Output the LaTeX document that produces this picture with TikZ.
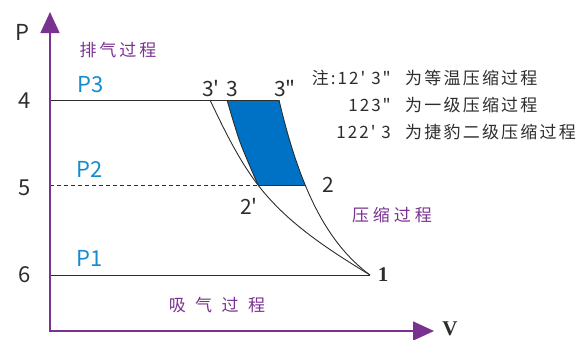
\documentclass[tikz,border=0pt]{standalone}
\usepackage{fontspec}
\newfontfamily\nsc{Noto Sans CJK SC}
\newfontfamily\tnr{Liberation Serif}
\usetikzlibrary{arrows.meta}
\definecolor{axpurple}{RGB}{122,50,145}
\definecolor{lblblue}{RGB}{22,140,206}
\definecolor{regblue}{RGB}{0,114,198}
\definecolor{ink}{RGB}{45,45,45}
\tikzset{
  axisline/.style={draw=axpurple, line width=1.6pt, line join=miter,
    {Triangle[length=21pt,width=19pt]}-{Triangle[length=21pt,width=19pt]}},
  thinline/.style={draw=ink, line width=0.9pt},
  dashline/.style={draw=ink, line width=0.9pt, dash pattern=on 4pt off 3pt},
  axlbl/.style={text=ink, font=\nsc\fontsize{22}{24}\selectfont, inner sep=0pt},
  plbl/.style={text=lblblue, font=\nsc\fontsize{22}{24}\selectfont, inner sep=0pt},
  ptlbl/.style={text=ink, font=\nsc\fontsize{21}{24}\selectfont, inner sep=0pt},
  serlbl/.style={text=ink, font=\tnr\bfseries\fontsize{21}{24}\selectfont, inner sep=0pt},
  proc/.style={text=axpurple, font=\nsc\fontsize{17}{20}\selectfont, inner sep=0pt},
  note/.style={text=ink, font=\nsc\fontsize{17}{20}\selectfont\addfontfeature{LetterSpace=12}, inner sep=0pt},
  notecjk/.style={text=ink, font=\nsc\fontsize{17}{20}\selectfont\addfontfeature{LetterSpace=13}, inner sep=0pt},
}
\begin{document}
\begin{tikzpicture}[x=1pt,y=-1pt]
\useasboundingbox (0,0) rectangle (581,340);
% key points
\coordinate (orig) at (50,331);
\coordinate (ytip) at (50,12);
\coordinate (xtip) at (434,331);
\coordinate (y4) at (50,100);
\coordinate (y5) at (50,185);
\coordinate (y6) at (50,275);
\coordinate (p1) at (370,275);
\coordinate (p2) at (305.2,185);
\coordinate (p2p) at (258,185);
\coordinate (p3) at (227,100);
\coordinate (p3p) at (210,100);
\coordinate (p3dd) at (279,100);
% blue region
\fill[regblue] (p3) -- (p3dd)
  -- plot[domain=100:185, samples=30, variable=\t] ({50+229*exp(0.2361*ln(231/(331-\t)))},\t)
  -- (p2p) -- plot[smooth] coordinates {(p2p) (240,142) (p3)} -- cycle;
% pressure lines
\draw[thinline] (y4) -- (p3dd);
\draw[dashline] (y5) -- (p2p);
\draw[thinline] (p2p) -- (p2);
\draw[thinline] (y6) -- (p1);
% curves
\draw[thinline] plot[domain=100:275, samples=60, variable=\t] ({50+229*exp(0.2361*ln(231/(331-\t)))},\t);
\draw[thinline] (p1) .. controls (329,250) and (287,223) .. (p2p)
  .. controls (238.5,159.6) and (223.8,128.9) .. (p3p);
\draw[thinline] plot[smooth] coordinates {(p2p) (240,142) (p3)};
% axes
\draw[axisline] (ytip) -- (orig) -- (xtip);
% labels
\node[axlbl] (lP) at (22,32) {P};
\node[axlbl] (l4) at (25,101) {4};
\node[axlbl] (l5) at (25,188) {5};
\node[axlbl] (l6) at (25,275) {6};
\node[serlbl] (lV) at (450,329) {V};
\node[plbl] (lP3) at (91,85) {P3};
\node[plbl] (lP2) at (90,169) {P2};
\node[plbl] (lP1) at (90,258) {P1};
\node[proc] (exh) at (118,50) {排\hspace{3pt}气\hspace{3pt}过\hspace{3pt}程};
\node[proc] (suc) at (217,305) {吸\hspace{9.5pt}气\hspace{9.5pt}过\hspace{9.5pt}程};
\node[proc] (cmp) at (392,215) {压\hspace{4pt}缩\hspace{4pt}过\hspace{4pt}程};
\node[serlbl] (l1) at (383,275) {1};
\node[ptlbl] (l2) at (328,185) {2};
\node[ptlbl] (l2p) at (249,206) {2'};
\node[ptlbl] (l3p) at (211,89) {3'};
\node[ptlbl] (l3) at (232,89) {3};
\node[ptlbl] (l3dd) at (285,89) {3"};
% notes
\node[note, anchor=east] (n1a) at (391,78) {注:12' 3"};
\node[notecjk, anchor=west] (n1b) at (405,78) {为等温压缩过程};
\node[note, anchor=east] (n2a) at (391,105) {123"};
\node[notecjk, anchor=west] (n2b) at (405,105) {为一级压缩过程};
\node[note, anchor=east] (n3a) at (391,132) {122' 3};
\node[notecjk, anchor=west] (n3b) at (405,132) {为捷豹二级压缩过程};
\end{tikzpicture}
\end{document}
